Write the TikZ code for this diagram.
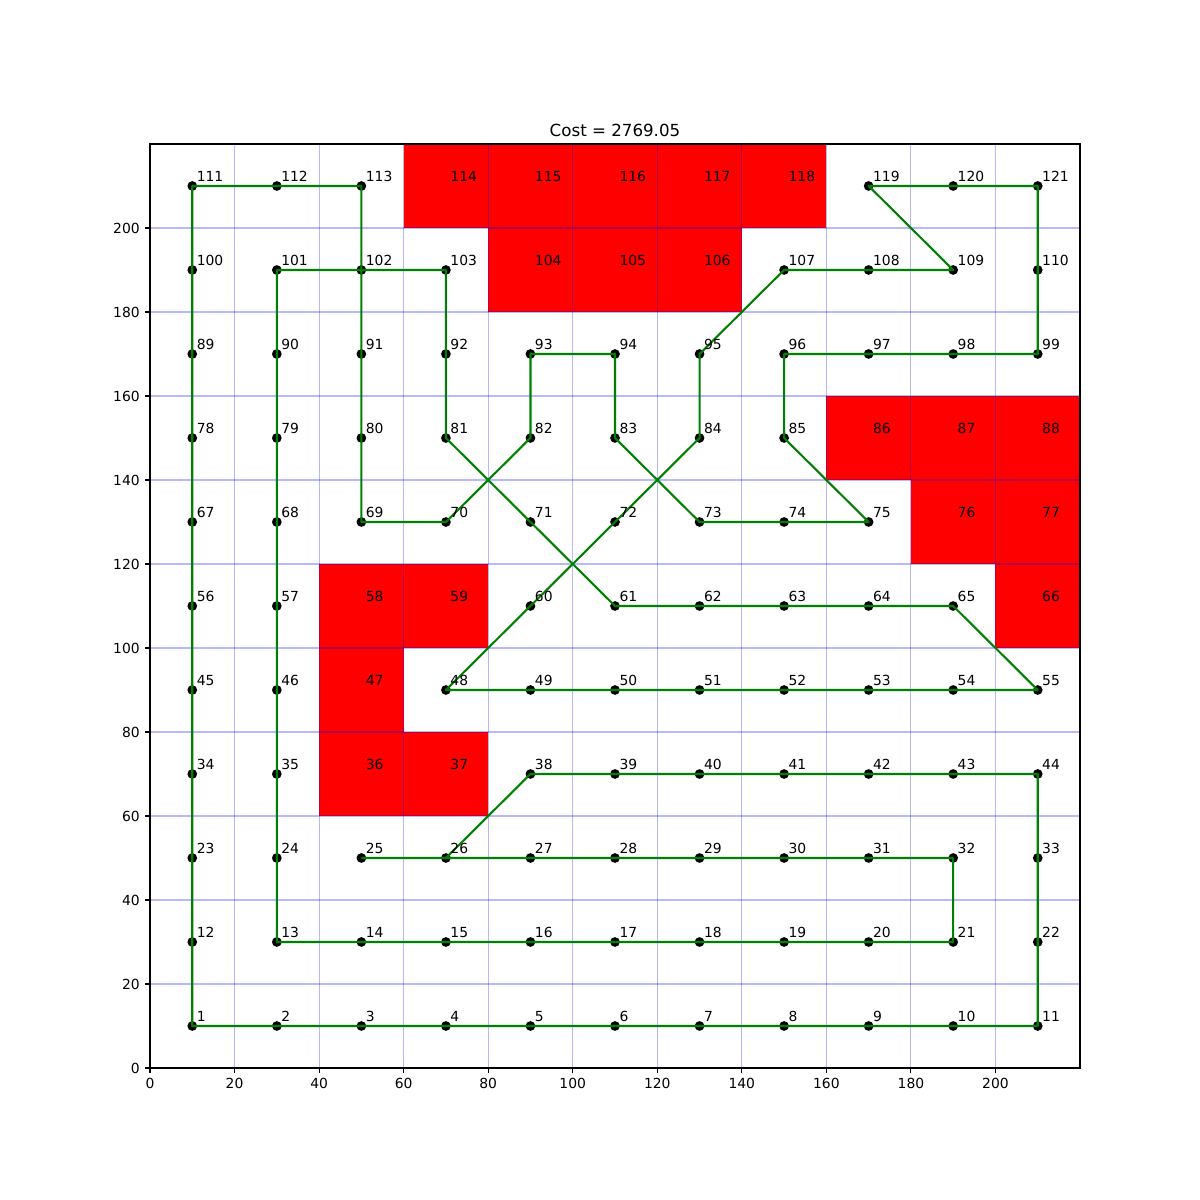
\documentclass[tikz,border=0pt]{standalone}
\usepackage{fontspec}
\setmainfont{DejaVu Sans}
\definecolor{mplgreen}{HTML}{008000}
\begin{document}
\begin{tikzpicture}[x=0.72pt,y=0.72pt,
  obst/.style={fill=red},
  gridline/.style={draw=blue,draw opacity=0.28,line width=0.8pt},
  spine/.style={draw=black,line width=0.8pt},
  tickmark/.style={draw=black,line width=0.8pt},
  ticklbl/.style={font=\fontsize{10}{12}\selectfont,inner sep=0pt},
  dot/.style={circle,fill=black,inner sep=0pt,minimum size=7pt},
  route/.style={draw=mplgreen,line width=1.5pt,line join=round},
  lbl/.style={font=\fontsize{10}{12}\selectfont,inner sep=0pt,anchor=base west},
  titlestyle/.style={font=\fontsize{12}{14}\selectfont,inner sep=0pt,anchor=base}]
\useasboundingbox (0,0) rectangle (1200,1200);
\fill[white] (0,0) rectangle (1200,1200);
\begin{scope}[shift={(108pt,95.04pt)},x=3.04364pt,y=3.024pt]
  % grid points
  \foreach \n in {1,...,121}{
    \pgfmathtruncatemacro\i{mod(\n-1,11)}
    \pgfmathtruncatemacro\j{(\n-1)/11}
    \coordinate (p\n) at ({10+20*\i},{10+20*\j});
  }
  % obstacles
  \foreach \n in {36,37,47,58,59,66,76,77,86,87,88,104,105,106,114,115,116,117,118}{
    \fill[obst] (p\n) ++(-10,-10) rectangle ++(20,20);
  }
  % grid
  \foreach \v in {0,20,...,200}{
    \draw[gridline] (\v,0) -- (\v,220);
    \draw[gridline] (0,\v) -- (220,\v);
  }
  % frame
  \draw[spine] (0,0) rectangle (220,220);
  % ticks
  \foreach \v in {0,20,...,200}{
    \draw[tickmark] (\v,0) -- ++(0pt,-3.5pt) node[ticklbl,anchor=north,yshift=-3.5pt] (xt\v) {\v};
    \draw[tickmark] (0,\v) -- ++(-3.5pt,0pt) node[ticklbl,anchor=east,xshift=-3.5pt] (yt\v) {\v};
  }
  % title
  \node[titlestyle] (title) at (110,220) [yshift=5.5pt] {Cost = 2769.05};
  % dots
  \foreach \a/\b in {1/35,38/46,48/57,60/65,67/75,78/85,89/103,107/113,119/121}{
    \foreach \n in {\a,...,\b}{
      \node[dot] (d\n) at (p\n) {};
    }
  }
  % route
  \draw[route] (p26) \foreach \n in {38,39,40,41,42,43,44,33,22,11,10,9,8,7,6,5,4,3,2,1,12,23,34,45,56,67,78,89,100,111,112,113,102,91,80,69,70,82,93,94,83,73,74,75,85,96,97,98,99,110,121,120,119,109,108,107,95,84,72,60,48,49,50,51,52,53,54,55,65,64,63,62,61,71,81,92,103,102,101,90,79,68,57,46,35,24,13,14,15,16,17,18,19,20,21,32,31,30,29,28,27,26,25}{ -- (p\n) };
  % labels
  \foreach \n in {1,...,121}{
    \pgfmathtruncatemacro\i{mod(\n-1,11)}
    \pgfmathtruncatemacro\j{(\n-1)/11}
    \node[lbl] (l\n) at ({11+20*\i},{11+20*\j}) {\n};
  }
\end{scope}
\end{tikzpicture}
\end{document}
